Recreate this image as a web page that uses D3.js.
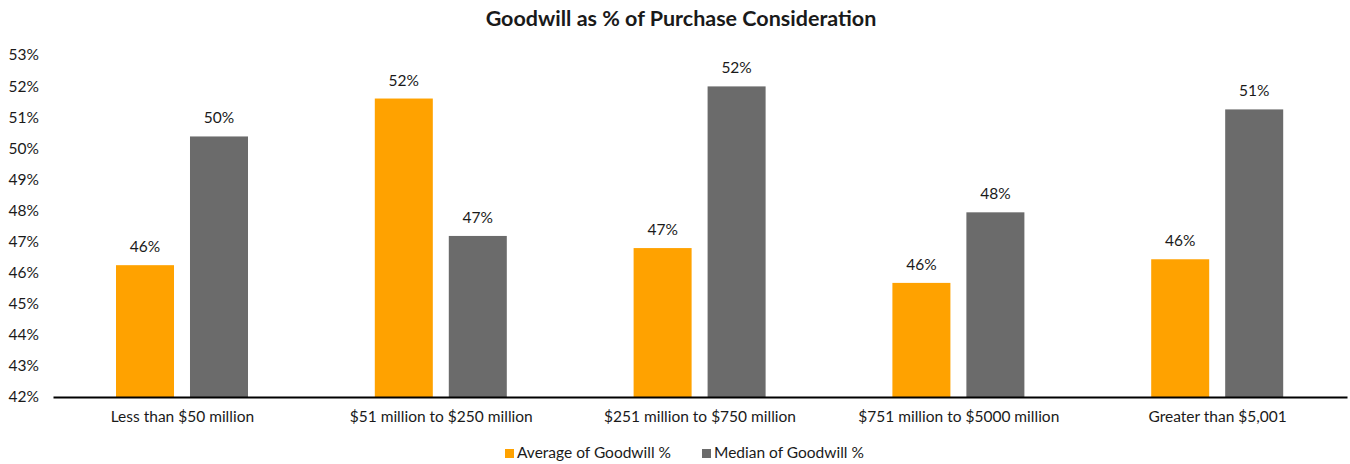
<!DOCTYPE html>
<html>
<head>
<meta charset="utf-8">
<script src="https://cdn.jsdelivr.net/npm/d3@7"></script>
<style>
  body { margin: 0; background: #fff; }
  svg text { font-family: Lato, "Open Sans", sans-serif; fill: #1a1a1a; }
</style>
</head>
<body>
<div id="chart"></div>
<script>
const categories = ["Less than $50 million", "$51 million to $250 million", "$251 million to $750 million", "$751 million to $5000 million", "Greater than $5,001"]
const series_names = ["Average of Goodwill %", "Median of Goodwill %"]
const average_values = [46.24, 51.6, 46.79, 45.67, 46.43]
const median_values = [50.38, 47.18, 51.99, 47.94, 51.25]
const y_ticks = [42, 43, 44, 45, 46, 47, 48, 49, 50, 51, 52, 53]
const colors = ["#FFA200", "#6B6B6B"]

const chart_width = 1350
const chart_height = 464
const plot_left = 53, plot_right = 1347, plot_top = 55, plot_bottom = 397
const font_size = "15.5px"

const svg = d3.select("#chart").append("svg")
  .attr("width", chart_width)
  .attr("height", chart_height)

// Title
svg.append("text")
  .attr("x", 681)
  .attr("y", 26)
  .attr("text-anchor", "middle")
  .style("font-size", "21.5px")
  .style("font-weight", "bold")
  .text("Goodwill as % of Purchase Consideration")

// Scales
const x = d3.scaleBand().domain(categories).range([plot_left, plot_right])
const x_inner = d3.scaleBand().domain(series_names).range([63, 195]).paddingInner(0.216)
const y = d3.scaleLinear().domain([42, 53]).range([plot_bottom, plot_top])

// Y axis (labels only)
svg.append("g")
  .attr("transform", `translate(${plot_left},0)`)
  .call(d3.axisLeft(y).tickValues(y_ticks).tickFormat(d => d + "%").tickSize(0).tickPadding(14))
  .call(g => g.select(".domain").remove())
  .call(g => g.selectAll("text").style("font-size", font_size).attr("fill", "#1a1a1a"))

// Bars
const data = categories.map((c, i) => ({ cat: c, vals: [average_values[i], median_values[i]] }))
const groups = svg.append("g").selectAll("g")
  .data(data)
  .join("g")
  .attr("transform", d => `translate(${x(d.cat)},0)`)

groups.selectAll("rect")
  .data(d => d.vals.map((v, j) => ({ name: series_names[j], v: v, j: j })))
  .join("rect")
  .attr("x", d => x_inner(d.name))
  .attr("width", x_inner.bandwidth())
  .attr("y", d => y(d.v))
  .attr("height", d => y(42) - y(d.v))
  .attr("fill", d => colors[d.j])

groups.selectAll("text.label")
  .data(d => d.vals.map((v, j) => ({ name: series_names[j], v: v })))
  .join("text")
  .attr("class", "label")
  .attr("x", d => x_inner(d.name) + x_inner.bandwidth() / 2)
  .attr("y", d => y(d.v) - 13)
  .attr("text-anchor", "middle")
  .style("font-size", font_size)
  .text(d => Math.round(d.v) + "%")

// X axis
svg.append("g")
  .attr("transform", `translate(0,${plot_bottom})`)
  .call(d3.axisBottom(x).tickSize(0).tickPadding(14))
  .call(g => g.select(".domain").attr("stroke", "#000").attr("stroke-width", 2))
  .call(g => g.selectAll("text").style("font-size", font_size).attr("fill", "#1a1a1a"))

// Legend
const legend = svg.append("g").attr("transform", "translate(505,454)")
const legend_x = [0, 197]
series_names.forEach((name, i) => {
  legend.append("rect")
    .attr("x", legend_x[i])
    .attr("y", -5)
    .attr("width", 9)
    .attr("height", 9)
    .attr("fill", colors[i])
  legend.append("text")
    .attr("x", legend_x[i] + 12)
    .attr("y", 0)
    .attr("dominant-baseline", "middle")
    .style("font-size", font_size)
    .text(name)
})
</script>
</body>
</html>
